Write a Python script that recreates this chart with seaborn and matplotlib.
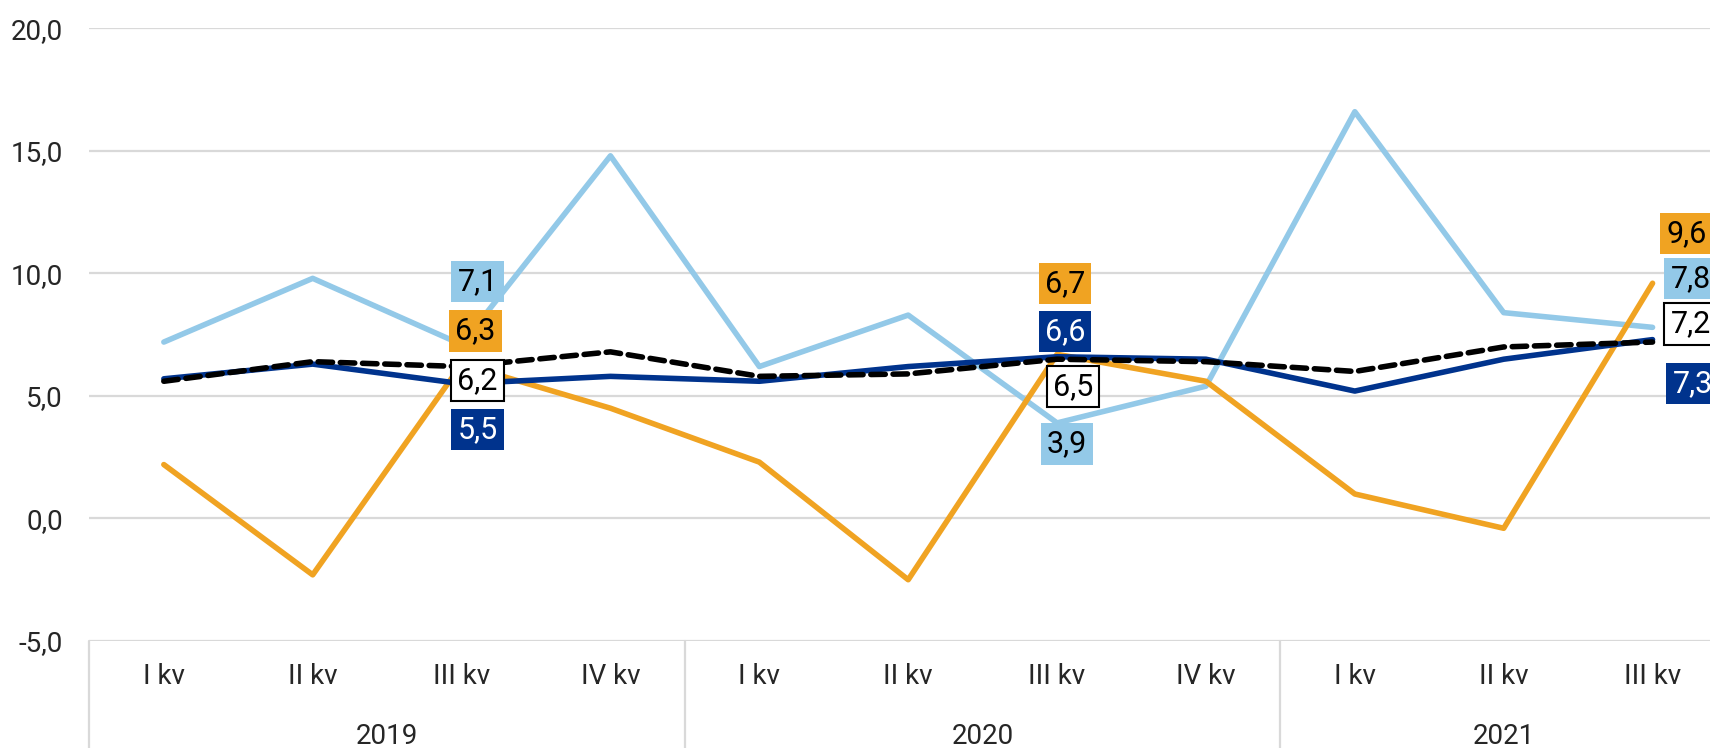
import matplotlib
matplotlib.use("Agg")
import matplotlib.pyplot as plt
import matplotlib.transforms as mtransforms
import seaborn as sns
import pandas as pd
import numpy as np

# ---------------- data ----------------
quarters = ["I kv", "II kv", "III kv", "IV kv",
            "I kv", "II kv", "III kv", "IV kv",
            "I kv", "II kv", "III kv"]
years = ["2019", "2020", "2021"]
year_sizes = [4, 4, 3]

series_orange = [2.2, -2.3, 6.3, 4.5, 2.3, -2.5, 6.7, 5.6, 1.0, -0.4, 9.6]
series_lightblue = [7.2, 9.8, 7.1, 14.8, 6.2, 8.3, 3.9, 5.4, 16.6, 8.4, 7.8]
series_navy = [5.7, 6.3, 5.5, 5.8, 5.6, 6.2, 6.6, 6.5, 5.2, 6.5, 7.3]
series_total = [5.6, 6.4, 6.2, 6.8, 5.8, 5.9, 6.5, 6.4, 6.0, 7.0, 7.2]

y_ticks = [-5, 0, 5, 10, 15, 20]

# ---------------- style ----------------
sns.set_theme(style="white")
avail = {f.name for f in matplotlib.font_manager.fontManager.ttflist}
fam = "Liberation Sans Narrow" if "Liberation Sans Narrow" in avail else "Roboto"
plt.rcParams["font.family"] = [fam, "DejaVu Sans"]

C_ORANGE = "#F0A322"
C_LBLUE = "#93C9E8"
C_NAVY = "#00338D"
C_BLACK = "#000000"

n = len(quarters)
idx = list(range(n))
df = pd.DataFrame({
    "idx": idx * 4,
    "value": series_orange + series_lightblue + series_navy + series_total,
    "series": (["orange"] * n + ["lightblue"] * n + ["navy"] * n + ["total"] * n),
})

W, H = 1710, 748
fig = plt.figure(figsize=(W / 100, H / 100), dpi=100)
ax_left, ax_right, ax_top, ax_bot = 89.4, 1727.0, 28.4, 641.0
ax = fig.add_axes([ax_left / W, 1 - ax_bot / H, (ax_right - ax_left) / W, (ax_bot - ax_top) / H])

lw = 4.0
styles = {
    "lightblue": dict(color=C_LBLUE, z=2),
    "orange": dict(color=C_ORANGE, z=3),
    "navy": dict(color=C_NAVY, z=4),
    "total": dict(color=C_BLACK, z=5),
}
for name in ["lightblue", "orange", "navy", "total"]:
    sub = df[df["series"] == name]
    st = styles[name]
    sns.lineplot(data=sub, x="idx", y="value", ax=ax, color=st["color"], lw=lw,
                 zorder=st["z"], legend=False, solid_capstyle="round",
                 dash_capstyle="round")
# dashed total
ax.lines[-1].set_dashes((2.6, 1.4))

ax.set_xlim(-0.5, n - 0.5)
ax.set_ylim(-5, 20)
ax.set_yticks(y_ticks)
ax.set_yticklabels([f"{v:.1f}".replace(".", ",") for v in y_ticks], fontsize=20)
ax.tick_params(axis="y", length=0, pad=19)
ax.set_xticks([])
ax.set_xlabel("")
ax.set_ylabel("")
ax.yaxis.grid(True, color="#D9D9D9", lw=1.6, zorder=0)
ax.set_axisbelow(True)
for s in ax.spines.values():
    s.set_visible(False)

# category axis
trans = mtransforms.blended_transform_factory(ax.transData, ax.transAxes)
axh = ax_bot - ax_top
for i, q in enumerate(quarters):
    ax.text(i, -35 / axh, q, transform=trans, ha="center", va="center", fontsize=20, clip_on=False)
start = 0
bounds = [-0.5]
for y, sz in zip(years, year_sizes):
    ax.text(start + (sz - 1) / 2, -95 / axh, y, transform=trans, ha="center", va="center",
            fontsize=20, clip_on=False)
    start += sz
    bounds.append(start - 0.5)
for b in bounds[:-1]:
    ax.plot([b, b], [0, -120 / axh], transform=trans, color="#D9D9D9", lw=1.6, clip_on=False)

# data labels (offsets in pixels)
label_specs = [
    # (index, series values, face, text color, edge, dx, dy)
    (2, series_lightblue, C_LBLUE, "black", None, 16, 63),
    (2, series_orange, C_ORANGE, "black", None, 14, 33),
    (2, series_total, "white", "black", "black", 16, -14),
    (2, series_navy, C_NAVY, "white", None, 16, -46),
    (6, series_orange, C_ORANGE, "black", None, 8, 71),
    (6, series_navy, C_NAVY, "white", None, 8, 25),
    (6, series_total, "white", "black", "black", 16, -27),
    (6, series_lightblue, C_LBLUE, "black", None, 10, -21),
    (10, series_orange, C_ORANGE, "black", None, 34, 50),
    (10, series_lightblue, C_LBLUE, "black", None, 38, 49),
    (10, series_total, "white", "black", "black", 38, 18),
    (10, series_navy, C_NAVY, "white", None, 40, -44),
]
for i, vals, face, tc, edge, dx, dy in label_specs:
    v = vals[i]
    ax.annotate(f"{v:.1f}".replace(".", ","), xy=(i, v), xytext=(dx, dy),
                textcoords="offset pixels", ha="center", va="center", fontsize=22,
                color=tc, zorder=10, annotation_clip=False,
                bbox=dict(boxstyle="square,pad=0.2", fc=face,
                          ec=edge if edge else face, lw=1.5 if edge else 0))

fig.savefig("out.png", dpi=100)
